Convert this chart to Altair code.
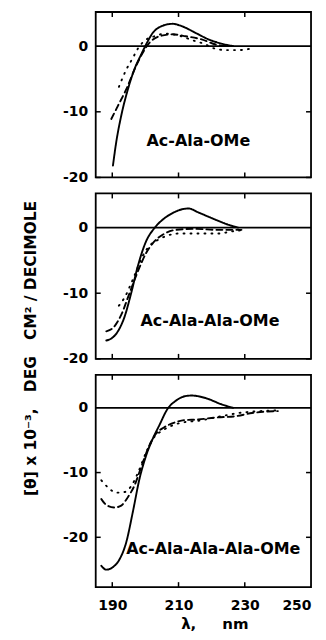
import altair as alt
import pandas as pd

# ---------------- data ----------------
# Panel 1: Ac-Ala-OMe
p1_solid_x = [190.2, 191.2, 192.7, 194.7, 196.7, 198.7, 200.2, 202.2, 204.7, 208.2, 211.2, 215.2, 219.2, 223.2, 226.5]
p1_solid_y = [-18.2, -14.6, -10.6, -6.6, -3.5, -1.3, 0.25, 2.0, 3.0, 3.4, 3.0, 2.0, 1.0, 0.35, 0.0]
p1_dash_x = [189.7, 191.7, 194.2, 197.2, 199.2, 201.2, 204.2, 208.2, 212.2, 217.2, 221.2, 225.0]
p1_dash_y = [-11.1, -9.1, -6.6, -3.0, -1.0, 0.5, 1.5, 1.8, 1.5, 1.0, 0.25, 0.0]
p1_dot_x = [192.0, 194.2, 196.2, 197.7, 199.7, 202.7, 206.2, 210.2, 214.2, 218.2, 220.2, 224.2, 228.2, 231.7]
p1_dot_y = [-6.2, -3.6, -1.8, -0.4, 0.8, 1.5, 1.9, 1.6, 0.9, 0.25, -0.25, -0.6, -0.6, -0.4]

# Panel 2: Ac-Ala-Ala-OMe
p2_solid_x = [188.2, 189.7, 191.7, 193.7, 195.7, 197.7, 200.2, 202.7, 205.2, 208.2, 211.2, 213.0, 216.0, 220.2, 225.2, 228.0]
p2_solid_y = [-17.2, -16.9, -15.8, -13.6, -10.0, -5.9, -2.1, -0.1, 1.2, 2.2, 2.8, 2.9, 2.3, 1.4, 0.4, 0.0]
p2_dash_x = [188.2, 190.2, 192.7, 195.2, 197.7, 200.2, 202.2, 205.2, 209.2, 215.0, 222.0, 229.0]
p2_dash_y = [-15.8, -15.3, -13.3, -10.0, -6.7, -3.9, -2.4, -1.1, -0.35, -0.2, -0.35, -0.35]
p2_dot_x = [192.0, 194.0, 195.7, 197.2, 199.0, 201.2, 203.7, 206.2, 210.2, 215.2, 222.2, 226.0, 230.0]
p2_dot_y = [-11.9, -10.4, -8.5, -6.7, -4.5, -2.8, -1.9, -1.3, -0.9, -0.9, -0.9, -0.6, -0.35]

# Panel 3: Ac-Ala-Ala-Ala-OMe
p3_solid_x = [186.7, 188.2, 190.2, 192.2, 194.2, 196.2, 198.2, 200.2, 202.2, 204.2, 206.7, 209.2, 212.0, 214.0, 218.2, 223.2, 226.5]
p3_solid_y = [-24.4, -25.0, -24.6, -23.4, -20.8, -16.1, -11.0, -7.4, -4.8, -2.7, -0.15, 1.1, 1.8, 1.9, 1.5, 0.5, 0.0]
p3_dash_x = [186.7, 188.2, 190.7, 192.7, 194.7, 196.7, 198.7, 201.2, 203.2, 205.7, 209.2, 211.7, 216.0, 221.2, 227.2, 232.2, 240.0]
p3_dash_y = [-14.1, -15.0, -15.4, -15.1, -13.8, -12.0, -9.2, -5.8, -4.0, -3.0, -2.2, -1.9, -1.8, -1.5, -1.3, -0.8, -0.5]
p3_dot_x = [186.7, 188.7, 191.2, 193.7, 195.7, 197.7, 200.2, 202.7, 205.2, 208.2, 212.0, 216.0, 221.0, 228.2, 232.0, 240.0]
p3_dot_y = [-11.2, -12.3, -13.1, -13.0, -12.1, -10.1, -6.9, -4.5, -3.5, -2.7, -2.2, -2.0, -1.5, -0.8, -0.6, -0.4]

panel_labels = ["Ac-Ala-OMe", "Ac-Ala-Ala-OMe", "Ac-Ala-Ala-Ala-OMe"]
label_pos_x = [216.0, 219.5, 220.5]
label_pos_y = [-14.4, -14.2, -21.8]

x_domain = [185, 250]
y_domains = [[-20, 5.2], [-20, 5.2], [-27.7, 5.1]]
x_tick_values = [190, 210, 230, 250]
x_inner_ticks = [190, 210, 230]
y_tick_values = [0, -10, -20]
y_inner_ticks = [-10, -20]

NB = "\u00a0"
x_title = "λ," + NB * 5 + "nm"
y_title = "[θ] x 10⁻³," + NB * 3 + "DEG" + NB * 3 + "CM²" + NB + "/" + NB + "DECIMOLE"

panels = [
    (p1_solid_x, p1_solid_y, p1_dash_x, p1_dash_y, p1_dot_x, p1_dot_y),
    (p2_solid_x, p2_solid_y, p2_dash_x, p2_dash_y, p2_dot_x, p2_dot_y),
    (p3_solid_x, p3_solid_y, p3_dash_x, p3_dash_y, p3_dot_x, p3_dot_y),
]

W = 216
heights = [166, 166, 213]
FONT = "DejaVu Sans"

series_names = ["solid", "dashed", "dotted"]
dash_scale = alt.Scale(domain=series_names, range=[[1, 0], [6, 4], [1, 6]])
LABEL_EXPR = "toString(datum.value)"


def make_panel(i):
    sx, sy, dx, dy, ox, oy = panels[i]
    H = heights[i]
    rows = []
    for name, xs, ys in [("solid", sx, sy), ("dashed", dx, dy), ("dotted", ox, oy)]:
        for j, (a, b) in enumerate(zip(xs, ys)):
            rows.append({"lam": a, "theta": b, "series": name, "order": j})
    df = pd.DataFrame(rows)

    xscale = alt.Scale(domain=x_domain, nice=False, zero=False)
    yscale = alt.Scale(domain=y_domains[i], nice=False, zero=False)

    if i == 2:
        xaxis = alt.Axis(values=x_tick_values, ticks=False, domain=False, grid=False,
                         labelFont=FONT, labelFontWeight="bold", labelFontSize=14,
                         labelColor="black", labelPadding=11, labelExpr=LABEL_EXPR,
                         title=x_title, titleFont=FONT, titleFontSize=15,
                         titleFontWeight="bold", titlePadding=4, titleX=119, titleColor="black")
    else:
        xaxis = None

    if i == 1:
        yaxis = alt.Axis(values=y_tick_values, ticks=False, domain=False, grid=False,
                         labelFont=FONT, labelFontWeight="bold", labelFontSize=14,
                         labelColor="black", labelPadding=8, labelExpr=LABEL_EXPR,
                         title=y_title, titleColor="black",
                         titleFont=FONT, titleFontSize=15.5, titleFontWeight="bold",
                         titleAngle=270, titleBaseline="middle", titleX=-65, titleY=155)
    else:
        yaxis = alt.Axis(values=y_tick_values, ticks=False, domain=False, grid=False,
                         labelFont=FONT, labelFontWeight="bold", labelFontSize=14,
                         labelColor="black", labelPadding=8, labelExpr=LABEL_EXPR, title=None)

    lines = alt.Chart(df).mark_line(color="black", strokeWidth=1.9, interpolate="monotone",
                                    strokeCap="round", clip=True).encode(
        x=alt.X("lam:Q", scale=xscale, axis=xaxis),
        y=alt.Y("theta:Q", scale=yscale, axis=yaxis),
        strokeDash=alt.StrokeDash("series:N", scale=dash_scale, legend=None),
        order="order:Q",
        detail="series:N",
    )

    zero = alt.Chart(pd.DataFrame({"z": [0]})).mark_rule(color="black", strokeWidth=1.8).encode(
        y=alt.Y("z:Q", scale=yscale)
    )

    xt = pd.DataFrame({"t": x_inner_ticks})
    top_ticks = alt.Chart(xt).mark_rule(color="black", strokeWidth=1.5).encode(
        x=alt.X("t:Q", scale=xscale), y=alt.value(0), y2=alt.value(5))
    bot_ticks = alt.Chart(xt).mark_rule(color="black", strokeWidth=1.5).encode(
        x=alt.X("t:Q", scale=xscale), y=alt.value(H), y2=alt.value(H - 5))
    yt = pd.DataFrame({"t": y_inner_ticks})
    left_ticks = alt.Chart(yt).mark_rule(color="black", strokeWidth=1.5).encode(
        y=alt.Y("t:Q", scale=yscale), x=alt.value(0), x2=alt.value(5))
    right_ticks = alt.Chart(yt).mark_rule(color="black", strokeWidth=1.5).encode(
        y=alt.Y("t:Q", scale=yscale), x=alt.value(W), x2=alt.value(W - 5))

    lab = alt.Chart(pd.DataFrame({"x": [label_pos_x[i]], "y": [label_pos_y[i]],
                                  "t": [panel_labels[i]]})).mark_text(
        font=FONT, fontWeight="bold", fontSize=16, color="black", baseline="middle",
        align="center").encode(
        x=alt.X("x:Q", scale=xscale), y=alt.Y("y:Q", scale=yscale), text="t:N")

    return alt.layer(zero, lines, top_ticks, bot_ticks, left_ticks, right_ticks, lab).properties(
        width=W, height=H)


chart = alt.vconcat(make_panel(0), make_panel(1), make_panel(2), spacing=16,
                    bounds="flush").properties(
    padding={"left": 15, "top": 1, "right": 5, "bottom": 0},
    background="white",
).configure_view(stroke="black", strokeWidth=1.8)

chart.save("out.html", embed_options={"renderer": "svg", "actions": False})
